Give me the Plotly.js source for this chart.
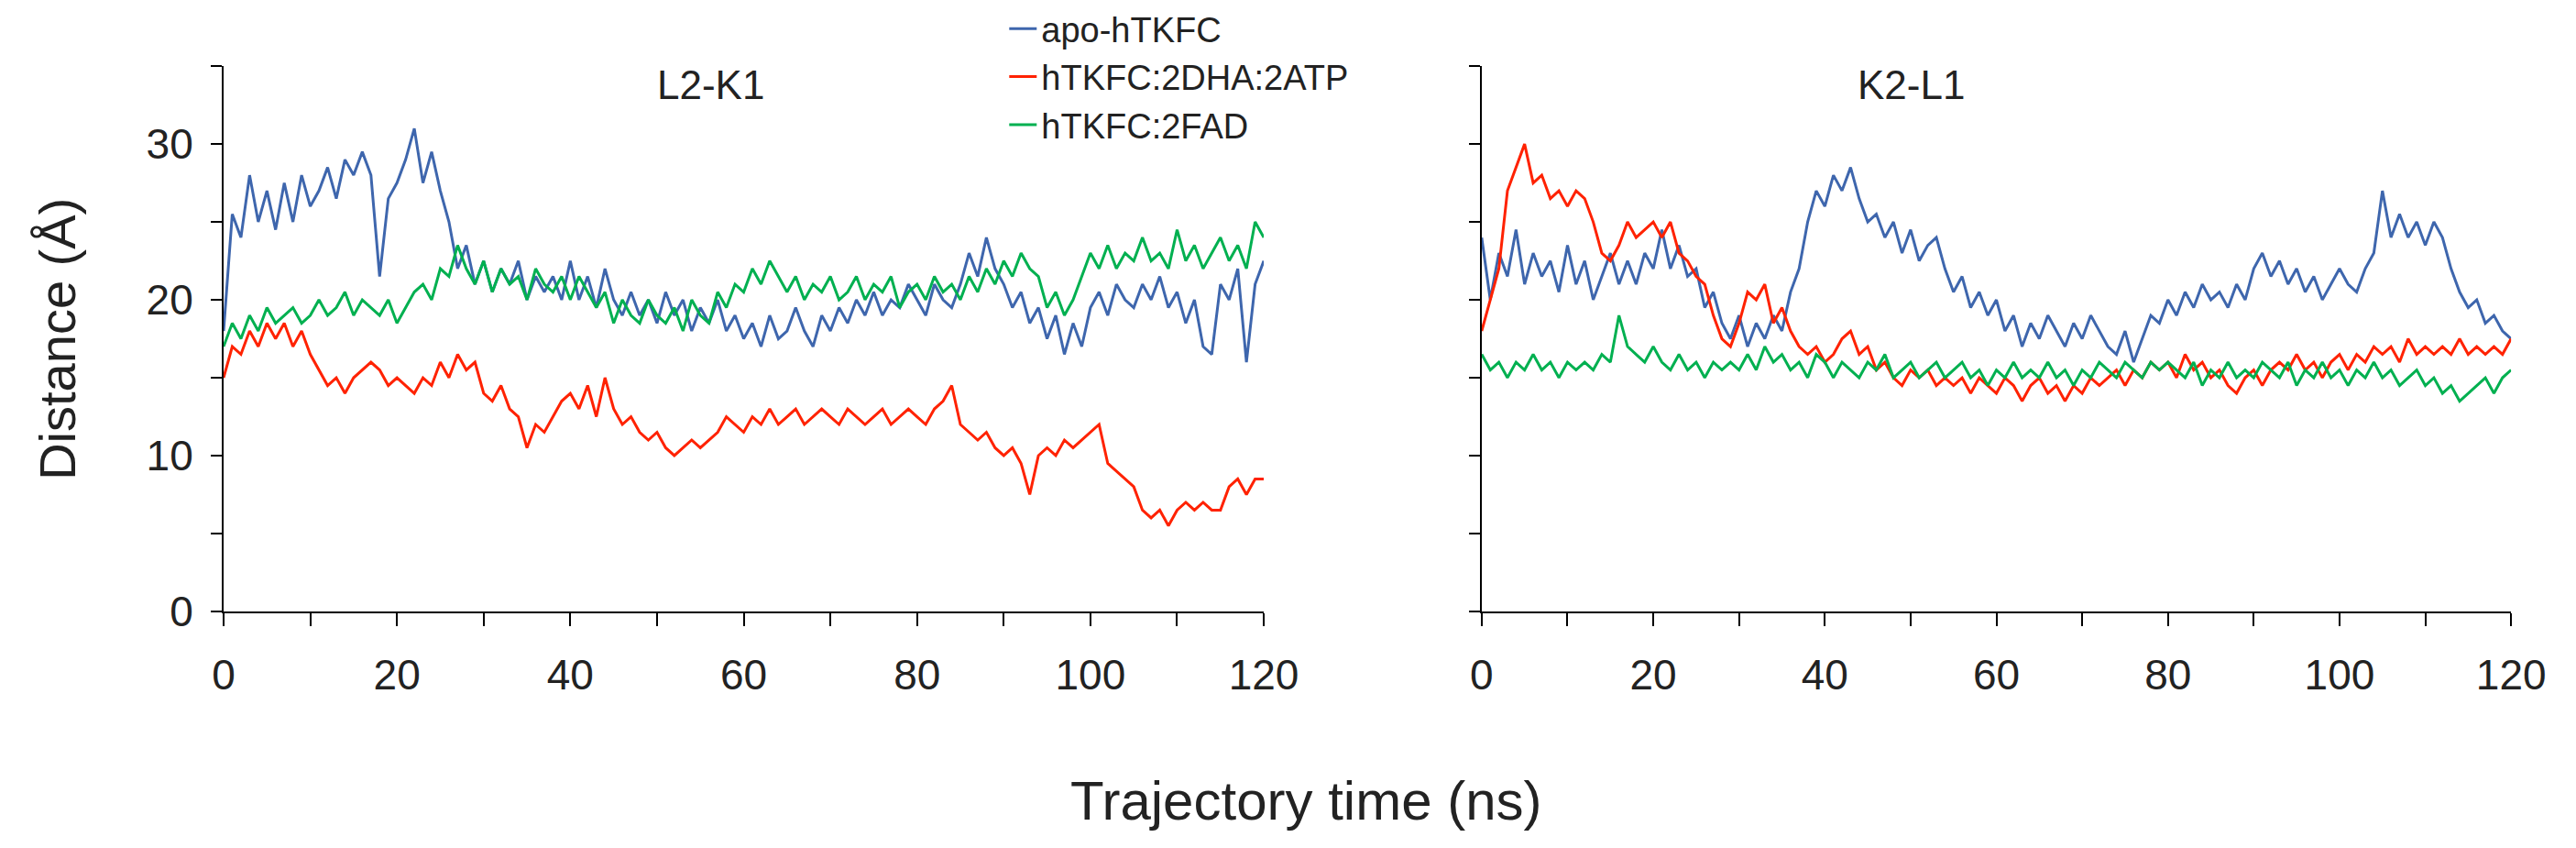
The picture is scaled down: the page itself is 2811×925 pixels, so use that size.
<!DOCTYPE html>
<html><head><meta charset="utf-8">
<script src="https://cdn.plot.ly/plotly-3.0.1.min.js"></script>
<style>body{margin:0;background:#fff}#c{width:2811px;height:925px}</style>
</head><body><div id="c"></div>
<script>
const seriesNames = ["apo-hTKFC", "hTKFC:2DHA:2ATP", "hTKFC:2FAD"];
const colors = ["#3e66ad", "#ff2200", "#00b050"];
const timeNs = Array.from({length: 121}, (_, i) => i);

const leftApo = [18,25.5,24,28,25,27,24.5,27.5,25,28,26,27,28.5,26.5,29,28,29.5,28,21.5,26.5,27.5,29,31,27.5,29.5,27,25,22,23.5,21,22.5,20.5,22,21,22.5,20,21.5,20.5,21.5,20,22.5,20,21.5,19.5,22,20,19,20.5,19,20,18.5,20.5,19,20,18,19.5,18.5,20,18,19,17.5,18.5,17,19,17.5,18,19.5,18,17,19,18,19.5,18.5,20,19,20.5,19,20,19.5,21,20,19,21,20,19.5,21,23,21.5,24,22,21,19.5,20.5,18.5,19.5,17.5,19,16.5,18.5,17,19.5,20.5,19,21,20,19.5,21,20,21.5,19.5,20.5,18.5,20,17,16.5,21,20,22,16,21,22.5];
const leftFad = [17,18.5,17.5,19,18,19.5,18.5,19,19.5,18.5,19,20,19,19.5,20.5,19,20,19.5,19,20,18.5,19.5,20.5,21,20,22,21.5,23.5,22,21,22.5,20.5,22,21,21.5,20,22,21,20.5,21.5,20,21.5,20.5,19.5,20.5,18.5,20,19,18.5,20,19,18.5,19.5,18,20,19,18.5,20.5,19.5,21,20.5,22,21,22.5,21.5,20.5,21.5,20,21,20.5,21.5,20,20.5,21.5,20,21,20.5,21.5,19.5,20.5,21,20,21.5,20.5,21,20,21.5,20.5,22,21,22.5,21.5,23,22,21.5,19.5,20.5,19,20,21.5,23,22,23.5,22,23,22.5,24,22.5,23,22,24.5,22.5,23.5,22,23,24,22.5,23.5,22,25,24];
const leftDha = [15,17,16.5,18,17,18.5,17.5,18.5,17,18,16.5,15.5,14.5,15,14,15,15.5,16,15.5,14.5,15,14.5,14,15,14.5,16,15,16.5,15.5,16,14,13.5,14.5,13,12.5,10.5,12,11.5,12.5,13.5,14,13,14.5,12.5,15,13,12,12.5,11.5,11,11.5,10.5,10,10.5,11,10.5,11,11.5,12.5,12,11.5,12.5,12,13,12,12.5,13,12,12.5,13,12.5,12,13,12.5,12,12.5,13,12,12.5,13,12.5,12,13,13.5,14.5,12,11.5,11,11.5,10.5,10,10.5,9.5,7.5,10,10.5,10,11,10.5,11,11.5,12,9.5,9,8.5,8,6.5,6,6.5,5.5,6.5,7,6.5,7,6.5,6.5,8,8.5,7.5,8.5,8.5];

const rightApo = [24,20,23,21.5,24.5,21,23,21.5,22.5,20.5,23.5,21,22.5,20,21.5,23,21,22.5,21,23,22,24.5,22,23.5,21.5,22,19.5,20.5,18.5,17.5,19,17,18.5,17.5,19,18,20.5,22,25,27,26,28,27,28.5,26.5,25,25.5,24,25,23,24.5,22.5,23.5,24,22,20.5,21.5,19.5,20.5,19,20,18,19,17,18.5,17.5,19,18,17,18.5,17.5,19,18,17,16.5,18,16,17.5,19,18.5,20,19,20.5,19.5,21,20,20.5,19.5,21,20,22,23,21.5,22.5,21,22,20.5,21.5,20,21,22,21,20.5,22,23,27,24,25.5,24,25,23.5,25,24,22,20.5,19.5,20,18.5,19,18,17.5];
const rightDha = [18,20,22,27,28.5,30,27.5,28,26.5,27,26,27,26.5,25,23,22.5,23.5,25,24,24.5,25,24,25,23,22.5,21.5,21,19,17.5,17,18.5,20.5,20,21,18.5,19.5,18,17,16.5,17,16,16.5,17.5,18,16.5,17,15.5,16,15,14.5,15.5,15,15.5,14.5,15,14.5,15,14,15,14.5,14,15,14.5,13.5,14.5,15,14,14.5,13.5,14.5,14,15,14.5,15,15.5,14.5,15.5,15,16,15.5,16,15,16.5,15.5,16,15,15.5,14.5,14,15,15.5,14.5,15.5,16,15.5,16.5,15.5,16,15,16,16.5,15.5,16.5,16,17,16.5,17,16,17.5,16.5,17,16.5,17,16.5,17.5,16.5,17,16.5,17,16.5,17.5];
const rightFad = [16.5,15.5,16,15,16,15.5,16.5,15.5,16,15,16,15.5,16,15.5,16.5,16,19,17,16.5,16,17,16,15.5,16.5,15.5,16,15,16,15.5,16,15.5,16.5,15.5,17,16,16.5,15.5,16,15,16.5,16,15,16,15.5,15,16,15.5,16.5,15,15.5,16,15,15.5,16,15,15.5,16,15,15.5,14.5,15.5,15,16,15,15.5,15,16,15,15.5,14.5,15.5,15,16,15.5,15,16,15.5,15,16,15.5,16,15.5,15,16,14.5,15.5,15,16,15,15.5,15,16,15.5,15,16,14.5,15.5,15,16,15,15.5,14.5,15.5,15,16,15,15.5,14.5,15,15.5,14.5,15,14,14.5,13.5,14,14.5,15,14,15,15.5];

const xTickVals = [0,10,20,30,40,50,60,70,80,90,100,110,120];
const xTickText = ["0","","20","","40","","60","","80","","100","","120"];
const yTickVals = [0,5,10,15,20,25,30,35];
const yTickText = ["0","","10","","20","","30",""];

const font = "Liberation Sans, Arial, sans-serif";
function mk(y, i, xa, ya, show) {
  return {x: timeNs, y: y, type: "scatter", mode: "lines", name: seriesNames[i],
    line: {color: colors[i], width: 3}, xaxis: xa, yaxis: ya, showlegend: show};
}
const traces = [
  mk(leftApo,0,"x","y",true), mk(leftDha,1,"x","y",true), mk(leftFad,2,"x","y",true),
  mk(rightApo,0,"x2","y2",false), mk(rightDha,1,"x2","y2",false), mk(rightFad,2,"x2","y2",false)
];
const xax = d => ({domain: d, range: [0,120], tickvals: xTickVals, ticktext: xTickText,
  showline: true, linecolor: "#000", linewidth: 2, ticks: "outside", ticklen: 14, tickwidth: 2,
  tickcolor: "#000", showgrid: false, zeroline: false, ticklabelstandoff: 14,
  tickfont: {family: font, size: 46, color: "#222"}});
const yax = (labels, anchor) => ({domain: [0.279, 0.922], range: [0,35], tickvals: yTickVals,
  ticktext: labels ? yTickText : yTickVals.map(()=>""), anchor: anchor,
  showline: true, linecolor: "#000", linewidth: 2, ticks: "outside", ticklen: 12, tickwidth: 2,
  tickcolor: "#000", showgrid: false, zeroline: false, ticklabelstandoff: 10,
  tickfont: {family: font, size: 46, color: "#222"}});
const layout = {
  width: 2811, height: 925, margin: {l:0,r:0,t:0,b:0},
  paper_bgcolor: "#fff", plot_bgcolor: "#fff",
  xaxis: Object.assign(xax([0.0868, 0.4906]), {anchor: "y"}),
  yaxis: yax(true, "x"),
  xaxis2: Object.assign(xax([0.5752, 0.9748]), {anchor: "y2"}),
  yaxis2: yax(false, "x2"),
  legend: {x: 0.39, y: 1.0, xanchor: "left", yanchor: "top", bgcolor: "rgba(0,0,0,0)",
    font: {family: font, size: 38, color: "#222"}, tracegroupgap: 0},
  annotations: [
    {text: "L2-K1", xref: "paper", yref: "paper", x: 0.276, y: 0.9, xanchor: "center", yanchor: "middle", showarrow: false, font: {family: font, size: 44, color: "#222"}},
    {text: "K2-L1", xref: "paper", yref: "paper", x: 0.742, y: 0.9, xanchor: "center", yanchor: "middle", showarrow: false, font: {family: font, size: 44, color: "#222"}},
    {text: "Trajectory time (ns)", xref: "paper", yref: "paper", x: 0.507, y: 0.056, xanchor: "center", yanchor: "middle", showarrow: false, font: {family: font, size: 60, color: "#222"}},
    {text: "Distance (Å)", xref: "paper", yref: "paper", x: 0.022, y: 0.6, xanchor: "center", yanchor: "middle", textangle: -90, showarrow: false, font: {family: font, size: 56, color: "#222"}}
  ]
};
Plotly.newPlot("c", traces, layout, {staticPlot: true});
</script></body></html>
